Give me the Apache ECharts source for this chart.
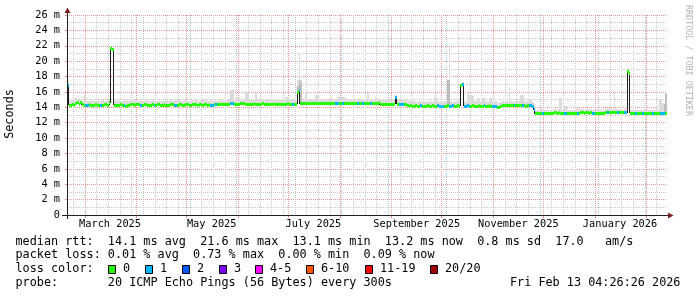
<!DOCTYPE html>
<html><head><meta charset="utf-8">
<script src="https://cdn.jsdelivr.net/npm/echarts@6/dist/echarts.min.js"></script>
<style>html,body{margin:0;padding:0;background:#fff}#c{width:697px;height:297px}</style>
</head><body><div id="c"></div>
<script>
// ---------------- DATA ----------------
const endTimeText = 'Fri Feb 13 04:26:26 2026';
const END_TIME = Date.UTC(2026, 1, 13, 4, 26, 26);
const DAYS = 360;
const DAY = 86400000;
const START_TIME = END_TIME - DAYS * DAY;

// daily median RTT (ms), day 0 = first day of the graph
const medianRtt = [
16.8,14.25,14.25,14.3,14.25,14.5,14.6,14.4,14.6,14.3,
14.25,14.2,14.25,14.3,14.25,14.2,14.25,14.3,14.25,14.2,
14.2,14.25,14.3,14.3,14.25,14.6,21.6,21.5,14.25,14.2,
14.25,14.25,14.3,14.25,14.2,14.15,14.2,14.25,14.3,14.3,
14.25,14.3,14.35,14.3,14.25,14.25,14.3,14.3,14.25,14.2,
14.25,14.3,14.25,14.25,14.3,14.3,14.25,14.25,14.3,14.25,
14.2,14.25,14.3,14.3,14.25,14.2,14.25,14.3,14.3,14.25,
14.25,14.3,14.3,14.25,14.25,14.3,14.35,14.3,14.25,14.3,
14.3,14.25,14.3,14.3,14.25,14.3,14.25,14.25,14.3,14.3,
14.3,14.3,14.35,14.3,14.3,14.35,14.35,14.4,14.45,14.45,
14.4,14.4,14.35,14.4,14.45,14.5,14.45,14.4,14.4,14.35,
14.4,14.4,14.45,14.4,14.35,14.4,14.4,14.45,14.4,14.4,
14.4,14.35,14.4,14.4,14.45,14.4,14.4,14.4,14.35,14.4,
14.4,14.4,14.45,14.4,14.4,14.4,14.35,14.4,15.95,16.25,
14.45,14.45,14.5,14.45,14.45,14.5,14.45,14.5,14.5,14.45,
14.45,14.5,14.45,14.45,14.5,14.5,14.45,14.5,14.45,14.45,
14.5,14.45,14.45,14.5,14.45,14.45,14.5,14.5,14.45,14.45,
14.5,14.45,14.45,14.5,14.45,14.5,14.45,14.45,14.5,14.45,
14.45,14.5,14.45,14.5,14.45,14.45,14.5,14.6,14.35,14.35,
14.4,14.35,14.35,14.4,14.35,14.35,14.4,15.3,14.4,14.4,
14.35,14.4,14.35,14.35,14.2,14.15,14.2,14.15,14.15,14.2,
14.15,14.15,14.2,14.15,14.1,14.15,14.2,14.15,14.15,14.2,
14.15,14.15,14.2,14.15,14.15,14.1,14.15,14.15,14.2,14.15,
14.15,14.2,14.15,14.15,14.2,14.15,16.85,17.0,14.15,14.15,
14.2,14.15,14.15,14.2,14.15,14.15,14.15,14.2,14.15,14.15,
14.2,14.15,14.15,14.2,14.15,14.15,14.15,14.1,13.95,14.0,
14.15,14.2,14.2,14.25,14.2,14.2,14.25,14.2,14.2,14.25,
14.2,14.2,14.25,14.2,14.2,14.15,14.2,14.2,14.2,14.15,
13.7,13.15,13.15,13.2,13.15,13.2,13.15,13.2,13.2,13.15,
13.2,13.25,13.3,13.3,13.25,13.3,13.25,13.2,13.2,13.15,
13.2,13.2,13.15,13.2,13.25,13.2,13.2,13.25,13.3,13.3,
13.25,13.3,13.3,13.25,13.3,13.25,13.2,13.25,13.2,13.2,
13.25,13.2,13.2,13.3,13.3,13.35,13.3,13.3,13.35,13.3,
13.35,13.3,13.35,13.3,13.3,13.3,18.7,18.4,13.2,13.15,
13.2,13.15,13.2,13.15,13.15,13.2,13.15,13.15,13.2,13.15,
13.15,13.2,13.15,13.15,13.2,13.15,13.2,13.15,13.2,13.2
];

// daily top of the smoke (highest ping, ms)
const smokeTop = [
16.9,15.0,14.8,14.9,15.0,15.2,15.1,14.9,14.9,14.8,
15.6,14.9,14.8,14.9,14.8,14.8,14.9,14.8,15.1,14.8,
14.8,14.9,14.8,14.8,14.9,15.0,21.6,21.5,14.9,14.8,
14.8,14.9,14.8,14.8,14.9,14.8,14.8,14.8,14.9,14.8,
14.9,15.0,14.8,14.8,14.9,14.8,14.8,14.9,14.8,14.8,
14.8,14.9,14.8,14.8,14.8,14.9,14.8,14.8,14.8,14.9,
14.8,14.8,14.9,14.8,14.8,15.0,14.9,15.0,14.8,14.8,
14.8,14.9,14.8,14.8,14.8,14.9,14.8,14.9,14.8,14.8,
15.0,14.9,15.0,14.9,14.8,14.8,14.9,14.8,14.8,14.9,
14.8,14.8,14.9,14.8,14.9,14.8,14.9,14.9,16.25,16.2,
15.0,15.2,15.2,14.9,15.0,14.9,15.0,16.1,16.0,15.0,
14.9,15.0,15.0,15.9,15.0,14.9,15.0,14.9,15.0,14.9,
15.0,14.9,15.0,15.1,14.9,15.0,14.9,15.0,15.0,14.9,
15.0,15.4,15.4,15.0,15.0,15.1,14.9,15.0,17.5,21.0,
17.5,15.1,15.0,16.0,15.1,15.0,15.1,15.0,15.1,15.6,
15.6,15.1,15.0,15.1,15.0,15.1,15.1,15.0,15.4,15.1,
15.0,15.1,15.4,15.3,15.2,15.3,15.3,15.2,15.1,15.0,
15.1,15.0,15.1,15.0,15.1,15.0,15.1,15.1,15.0,15.1,
15.9,15.1,15.0,15.1,15.0,15.3,15.1,15.0,15.0,14.9,
14.9,15.0,14.9,14.9,15.0,14.9,15.0,15.6,15.0,14.9,
14.9,14.9,15.0,14.9,14.8,14.9,14.8,14.9,14.7,14.8,
14.7,14.9,14.8,14.7,14.8,14.7,14.8,14.7,14.8,14.7,
15.4,15.3,14.8,14.7,14.8,14.7,14.8,14.8,17.5,21.9,
14.8,14.7,14.8,14.7,14.8,14.8,17.1,17.3,14.8,14.7,
16.1,15.6,15.6,15.5,14.8,14.8,15.2,14.8,14.7,15.2,
15.2,14.8,14.7,15.2,15.2,14.8,14.7,14.8,14.6,14.6,
14.7,14.8,14.7,14.8,14.8,16.7,14.8,14.7,14.8,14.7,
14.8,14.8,15.6,15.6,14.8,14.7,14.8,14.9,14.9,14.7,
14.2,13.7,13.6,13.7,13.9,13.8,13.7,13.6,13.7,13.6,
13.7,13.7,13.8,13.8,13.7,15.2,15.2,13.7,14.3,14.2,
13.7,13.6,13.7,13.6,13.7,13.9,13.9,13.7,13.8,13.8,
13.7,13.8,13.8,13.7,13.8,13.7,13.7,13.7,13.6,13.7,
13.7,13.6,13.7,13.8,13.9,13.9,13.8,13.8,16.0,13.8,
13.8,13.7,13.8,13.7,13.8,13.8,19.1,19.0,13.7,13.6,
13.7,13.6,13.7,13.6,13.7,13.7,13.6,13.7,13.7,13.6,
13.6,13.65,13.65,13.6,13.7,15.0,15.0,14.5,14.5,15.7
];

// denser (darker) part of the smoke on a few days: [day, ms]
const smokeDense = [[138,16.8],[139,17.5],[140,17.3],[228,17.6],[229,17.6],[236,17.0],[237,17.2],[358,14.4],[359,15.7]];

// days with lost packets: [day, lost pings out of 20]
const lossEvents = [[0,1],[11,1],[12,1],[20,1],[34,1],[44,1],[52,1],[64,1],[65,1],[86,1],[87,1],[89,1],[98,1],[99,1],
[135,1],[139,1],[161,1],[162,1],[165,1],[174,1],[177,1],[182,1],[197,1],[199,1],[200,1],[201,1],[212,1],
[222,1],[223,1],[224,1],[225,1],[229,1],[230,1],[231,1],[237,1],[238,1],[239,1],[240,1],[241,1],[250,1],
[255,1],[256,1],[257,1],[268,1],[273,1],[277,1],[278,1],[279,1],[280,1],[285,1],[298,1],[299,1],[306,1],
[315,1],[316,1],[324,1],[330,1],[334,1],[335,1],[341,1],[345,1],[351,1],[356,1],[357,1],[358,1]];

const yTickValues = [0,2,4,6,8,10,12,14,16,18,20,22,24,26];
const xLabelDates = ['2025-03-16','2025-05-16','2025-07-16','2025-09-16','2025-11-16','2026-01-16'];
const xLabelTexts = ['March 2025','May 2025','July 2025','September 2025','November 2025','January 2026'];

const statsRtt = 'median rtt:  14.1 ms avg  21.6 ms max  13.1 ms min  13.2 ms now  0.8 ms sd  17.0   am/s';
const statsLoss = 'packet loss: 0.01 % avg  0.73 % max  0.00 % min  0.09 % now';
const lossLegendTitle = 'loss color:';
const lossLegendLabels = ['0','1','2','3','4-5','6-10','11-19','20/20'];
const lossLegendColors = ['#26ff00','#00b8ff','#0059ff','#7e00ff','#ff00ff','#ff5500','#ff0000','#a10000'];
const probeText = 'probe:       20 ICMP Echo Pings (56 Bytes) every 300s';
const yAxisName = 'Seconds';
const watermark = 'RRDTOOL / TOBI OETIKER';

// ---------------- BUILD ----------------
const MONO = '"DejaVu Sans Mono", "Liberation Mono", monospace';
const lossByDay = new Array(DAYS).fill(0);
lossEvents.forEach(([d, n]) => { lossByDay[d] = n; });
function lossColor(n) {
  if (n === 0) return lossLegendColors[0];
  if (n === 1) return lossLegendColors[1];
  if (n === 2) return lossLegendColors[2];
  if (n === 3) return lossLegendColors[3];
  if (n <= 5) return lossLegendColors[4];
  if (n <= 10) return lossLegendColors[5];
  if (n <= 19) return lossLegendColors[6];
  return lossLegendColors[7];
}
const dayData = medianRtt.map((v, d) => [START_TIME + d * DAY, v, smokeTop[d], lossByDay[d], d > 0 ? medianRtt[d - 1] : v]);
const denseData = smokeDense.map(([d, top]) => [START_TIME + d * DAY, medianRtt[d], top]);
const xLabelValues = xLabelDates.map(s => Date.parse(s + 'T00:00:00Z'));

// vertical grid: weekly (Saturday) minor lines and monthly major lines
const vGrid = [];
{
  let t = Date.UTC(2025, 1, 22);
  while (t <= END_TIME) { if (t >= START_TIME) vGrid.push([t, 0, 0]); t += 7 * DAY; }
  for (let m = 2; m <= 13; m++) {
    const tm = Date.UTC(2025, m, 1);
    if (tm >= START_TIME && tm <= END_TIME) vGrid.push([tm, 0, 1]);
  }
}

const GRID_MINOR = '#c8c8c8';
const GRID_MAJOR = '#eb9595';

const chart = echarts.init(document.getElementById('c'), null, {renderer: 'canvas'});

const legendGraphics = [];
const textStyle = (txt, x, y, extra) => Object.assign({
  type: 'text', x: x, y: y,
  style: Object.assign({text: txt, fontFamily: MONO, fontSize: 11.8, fill: '#000', textVerticalAlign: 'middle'}, extra || {})
});
legendGraphics.push(textStyle(statsRtt, 15.5, 241.5));
legendGraphics.push(textStyle(statsLoss, 15.5, 255.3));
legendGraphics.push(textStyle(lossLegendTitle, 15.5, 269.1));
legendGraphics.push(textStyle(probeText, 15.5, 282.8));
legendGraphics.push(textStyle(endTimeText, 510, 282.8));
const boxX = [108.5, 145.5, 182.5, 219.5, 255.5, 306.5, 365.5, 430.5];
lossLegendLabels.forEach((lab, i) => {
  legendGraphics.push({type: 'rect', shape: {x: boxX[i], y: 265.5, width: 7, height: 8},
    style: {fill: lossLegendColors[i], stroke: '#000', lineWidth: 1}});
  legendGraphics.push(textStyle(lab, boxX[i] + 14.5, 269.1));
});
legendGraphics.push({type: 'text', x: 10, y: 114, rotation: Math.PI / 2,
  style: {text: yAxisName, fontFamily: MONO, fontSize: 11.8, fill: '#000', textAlign: 'center', textVerticalAlign: 'middle'}});
legendGraphics.push({type: 'text', x: 688, y: 5, rotation: -Math.PI / 2,
  style: {text: watermark, fontFamily: MONO, fontSize: 8.4, fill: '#b4b4b4', textAlign: 'left', textVerticalAlign: 'middle'}});
// axis lines and arrows
legendGraphics.push({type: 'line', shape: {x1: 62, y1: 215.5, x2: 668, y2: 215.5}, style: {stroke: '#1f1f1f', lineWidth: 1}, z: 100});
legendGraphics.push({type: 'line', shape: {x1: 67.5, y1: 219, x2: 67.5, y2: 12}, style: {stroke: '#1f1f1f', lineWidth: 1}, z: 100});
legendGraphics.push({type: 'polygon', shape: {points: [[668, 212.5], [668, 218.5], [673.5, 215.5]]}, style: {fill: '#801f1f'}, z: 100});
legendGraphics.push({type: 'polygon', shape: {points: [[64.5, 13], [70.5, 13], [67.5, 7.5]]}, style: {fill: '#801f1f'}, z: 100});

const option = {
  animation: false,
  backgroundColor: '#ffffff',
  grid: {left: 67, top: 15, width: 600, height: 200, containLabel: false},
  xAxis: {
    type: 'value', min: START_TIME, max: END_TIME,
    axisLine: {show: false}, axisTick: {show: false}, splitLine: {show: false},
    axisLabel: {
      customValues: xLabelValues,
      formatter: (v) => { const i = xLabelValues.indexOf(v); return i >= 0 ? xLabelTexts[i] : ''; },
      fontFamily: MONO, fontSize: 10.3, color: '#000', margin: 4
    }
  },
  yAxis: {
    type: 'value', min: 0, max: 26, interval: 2,
    axisLine: {show: false},
    axisTick: {show: true, length: 2, lineStyle: {color: GRID_MAJOR}},
    splitLine: {show: true, lineStyle: {color: GRID_MAJOR, type: [1, 1], width: 1}},
    minorTick: {show: false, splitNumber: 2},
    minorSplitLine: {show: true, lineStyle: {color: GRID_MINOR, type: [1, 1], width: 1}},
    axisLabel: {
      formatter: (v) => v === 0 ? '0' : v + ' m',
      fontFamily: MONO, fontSize: 10.3, color: '#000', margin: 7
    }
  },
  series: [
    { // vertical grid lines
      type: 'custom', z: 1, silent: true, data: vGrid, encode: {x: 0, y: 1},
      renderItem: (params, api) => {
        const t = api.value(0), major = api.value(2);
        const p = api.coord([t, 0]), q = api.coord([t, 26]);
        const x = Math.floor(p[0]) + 0.5;
        const children = [{type: 'line', shape: {x1: x, y1: p[1] - 1, x2: x, y2: q[1]},
          style: {stroke: major ? GRID_MAJOR : GRID_MINOR, lineWidth: 1, lineDash: [1, 1]}}];
        if (major) children.push({type: 'line', shape: {x1: x, y1: p[1], x2: x, y2: p[1] + 3}, style: {stroke: GRID_MAJOR, lineWidth: 1}});
        return {type: 'group', children: children};
      }
    },
    { // smoke
      type: 'custom', z: 2, silent: true, data: dayData, encode: {x: 0, y: 1},
      renderItem: (params, api) => {
        const t = api.value(0), v = api.value(1), top = api.value(2);
        const a = api.coord([t, top]), b = api.coord([t + DAY, v]);
        const x0 = Math.round(a[0]), x1 = Math.round(b[0]);
        const y0 = Math.round(a[1]), y1 = Math.round(b[1]);
        if (x1 <= x0 || y1 <= y0) return null;
        return {type: 'rect', shape: {x: x0, y: y0, width: x1 - x0, height: y1 - y0}, style: {fill: '#dcdcdc'}};
      }
    },
    { // dense smoke
      type: 'custom', z: 3, silent: true, data: denseData, encode: {x: 0, y: 1},
      renderItem: (params, api) => {
        const t = api.value(0), v = api.value(1), top = api.value(2);
        const a = api.coord([t, top]), b = api.coord([t + DAY, v]);
        const x0 = Math.round(a[0]), x1 = Math.round(b[0]);
        const y0 = Math.round(a[1]), y1 = Math.round(b[1]);
        if (x1 <= x0 || y1 <= y0) return null;
        return {type: 'rect', shape: {x: x0, y: y0, width: x1 - x0, height: y1 - y0}, style: {fill: '#bebebe'}};
      }
    },
    { // median step connectors
      type: 'custom', z: 4, silent: true, data: dayData, encode: {x: 0, y: 1},
      renderItem: (params, api) => {
        const t = api.value(0), v = api.value(1), prev = api.value(4);
        if (v === prev) return null;
        const a = api.coord([t, v]), b = api.coord([t, prev]);
        const x0 = Math.round(a[0]);
        const x = (v > prev ? x0 : x0 - 1) + 0.5;
        return {type: 'line', shape: {x1: x, y1: Math.round(a[1]), x2: x, y2: Math.round(b[1])}, style: {stroke: '#202020', lineWidth: 1}};
      }
    },
    { // median coloured by packet loss
      type: 'custom', z: 5, silent: true, data: dayData, encode: {x: 0, y: 1},
      renderItem: (params, api) => {
        const t = api.value(0), v = api.value(1), loss = api.value(3);
        const a = api.coord([t, v]), b = api.coord([t + DAY, v]);
        const x0 = Math.round(a[0]), x1 = Math.round(b[0]);
        const y0 = Math.round(a[1] - 1.5);
        if (x1 <= x0) return null;
        return {type: 'rect', shape: {x: x0, y: y0, width: x1 - x0, height: 3}, style: {fill: lossColor(loss)}};
      }
    }
  ],
  graphic: {elements: legendGraphics}
};
chart.setOption(option);
</script>
</body></html>
